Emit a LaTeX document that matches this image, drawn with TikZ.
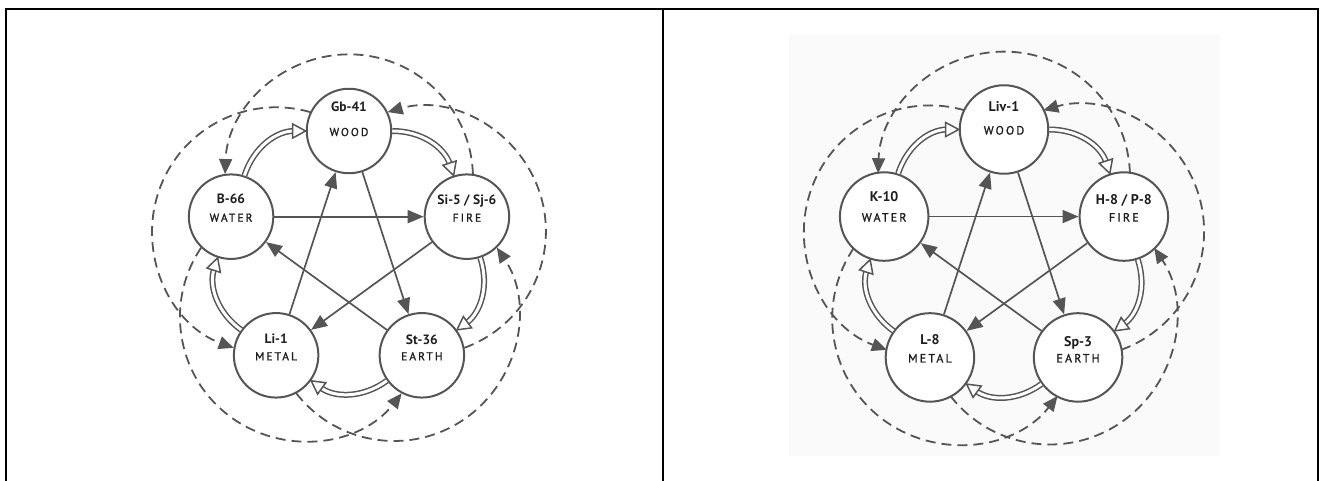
\documentclass[tikz,border=0pt]{standalone}
\usepackage{fontspec}
\setmainfont{PT Sans}
\newfontfamily\elemfont{PT Sans}[LetterSpace=18, FakeBold=1.3]
\usetikzlibrary{arrows.meta,calc,decorations.markings}

\definecolor{linec}{HTML}{555555}
\definecolor{textc}{HTML}{1E1E1E}
\definecolor{panelbg}{HTML}{FAFAFA}

\tikzset{
  frame/.style={draw=black, line width=2pt, line join=miter},
  elem/.style={circle, draw=linec, line width=2pt, fill=white, inner sep=0pt},
  lab/.style={font=\bfseries\fontsize{13.5}{15}\selectfont, text=textc, inner sep=0pt,
              text height=9.4pt, text depth=0pt},
  nam/.style={font=\elemfont\fontsize{11.5}{13}\selectfont, text=textc, inner sep=0pt,
              text height=8.1pt, text depth=0pt},
  ko/.style={draw=linec, line width=1.7pt, -{Triangle[length=16pt,width=13pt]}},
  insult/.style={draw=linec, line width=1.8pt, dash pattern=on 10pt off 6pt,
                 -{Triangle[length=15pt,width=13pt]}},
  sheng/.style={draw=linec, line width=1.5pt, double=white, double distance=3pt,
    shorten >=12pt,
    postaction={decorate, decoration={markings,
      mark=at position 0.999 with {\draw[draw=linec, line width=1.5pt, fill=white,
        line join=miter] (0,0) -- (-13pt,7pt) -- (-13pt,-7pt) -- cycle;}}}},
}

% one element: name, angle on the wheel, point label, element name, label offset
\newcommand\wxnode[5]{%
  \node[elem] (#1) at (#2:\wR) {};
  \node[lab] (#1-lab) at ($(#1)+(0,#5)$) {#3};
  \node[nam] (#1-nam) at ($(#1)+(0,-1)$) {#4};
}

% generating, controlling and insulting cycles between the five elements
\newcommand\wxlinks[1]{%
  \draw[ko] (#1-water) -- (#1-fire);
  \draw[ko] (#1-fire) -- (#1-metal);
  \draw[ko] (#1-metal) -- (#1-wood);
  \draw[ko] (#1-wood) -- (#1-earth);
  \draw[ko] (#1-earth) -- (#1-water);
  \draw[sheng] (#1-water) to[bend left=36] (#1-wood);
  \draw[sheng] (#1-wood) to[bend left=36] (#1-fire);
  \draw[sheng] (#1-fire) to[bend left=36] (#1-earth);
  \draw[sheng] (#1-earth) to[bend left=36] (#1-metal);
  \draw[sheng] (#1-metal) to[bend left=36] (#1-water);
  \foreach \b in {18,90,162,234,306}
    \draw[insult] (\b:{0.618*\wR}) ++({\b-88}:\wR)
      arc[start angle={\b-88}, end angle={\b+88}, radius=\wR];
}

\begin{document}
\begin{tikzpicture}[x=1pt,y=1pt]
\useasboundingbox (0,0) rectangle (1322,481);

% light backdrop of the second figure
\fill[panelbg] (789,25) rectangle (1220,446);

% table frame
\draw[frame] (6,0) -- (6,472) -- (1318,472) -- (1318,0);
\draw[frame] (663,0) -- (663,472);

% left wheel
\begin{scope}[shift={(349,226)}, elem/.append style={minimum size=84.5pt}]
  \def\wR{124}
  \wxnode{L-wood}{90}{Gb-41}{WOOD}{24}
  \wxnode{L-fire}{18}{Si-5 / Sj-6}{FIRE}{17}
  \wxnode{L-earth}{306}{St-36}{EARTH}{16}
  \wxnode{L-metal}{234}{Li-1}{METAL}{17}
  \wxnode{L-water}{162}{B-66}{WATER}{18}
  \wxlinks{L}
\end{scope}

% right wheel
\begin{scope}[shift={(1004,225.5)}, elem/.append style={minimum size=88.5pt},
    lab/.append style={font=\bfseries\fontsize{14}{16}\selectfont},
    nam/.append style={font=\elemfont\fontsize{12}{14}\selectfont}]
  \def\wR{126}
  \wxnode{R-wood}{90}{Liv-1}{WOOD}{23}
  \wxnode{R-fire}{18}{H-8 / P-8}{FIRE}{17}
  \wxnode{R-earth}{306}{Sp-3}{EARTH}{16}
  \wxnode{R-metal}{234}{L-8}{METAL}{18}
  \wxnode{R-water}{162}{K-10}{WATER}{20}
  \wxlinks{R}
\end{scope}
\end{tikzpicture}
\end{document}
